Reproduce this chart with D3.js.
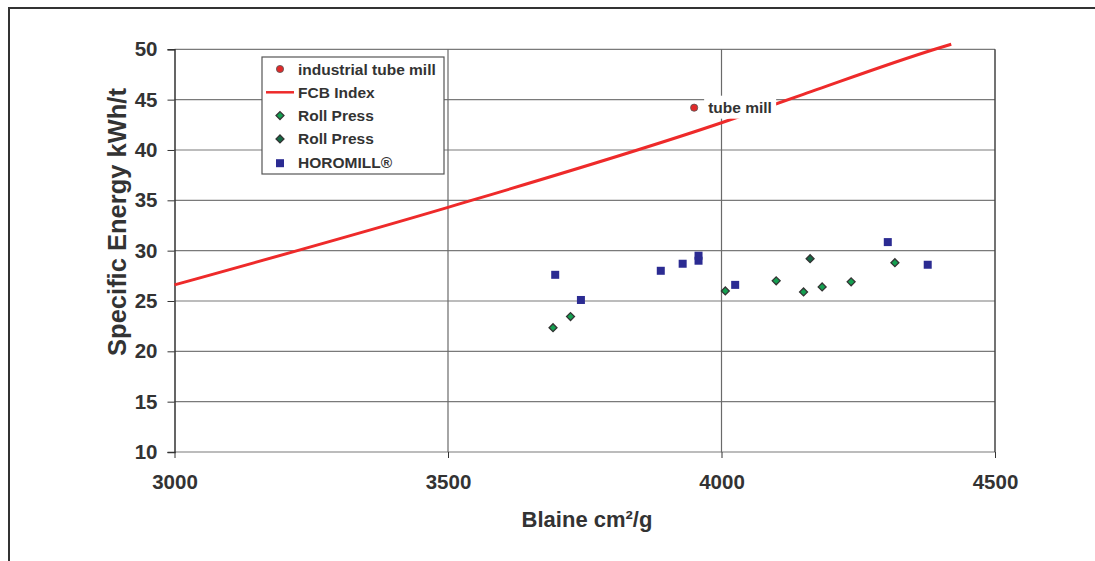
<!DOCTYPE html>
<html lang="en">
<head>
<meta charset="UTF-8">
<title>Specific Energy vs Blaine</title>
<script src="https://d3js.org/d3.v7.min.js"></script>
<style>
  body { margin: 0; background: #fff; }
  text { font-family: "Liberation Sans", Arial, sans-serif; font-weight: bold; fill: #333; }
</style>
</head>
<body>
<script>
    const blaineTicks = [3000, 3500, 4000, 4500];
    const energyTicks = [10, 15, 20, 25, 30, 35, 40, 45, 50];

    const tubeMillX = [3950];
    const tubeMillY = [44.2];

    const fcbX = [3000, 3500, 4000, 4143, 4390, 4420];
    const fcbY = [26.6, 34.3, 42.7, 45.4, 50.0, 50.5];

    const rollPress1X = [3692, 3724, 4007, 4100, 4150, 4184, 4237, 4317];
    const rollPress1Y = [22.35, 23.45, 26.0, 27.0, 25.9, 26.4, 26.9, 28.8];

    const rollPress2X = [4162];
    const rollPress2Y = [29.2];

    const horomillX = [3696, 3743, 3889, 3929, 3958, 3958, 4025, 4304, 4377];
    const horomillY = [27.6, 25.1, 28.0, 28.7, 29.0, 29.5, 26.6, 30.85, 28.6];

    const legendItems = ['industrial tube mill', 'FCB Index', 'Roll Press', 'Roll Press', 'HOROMILL®'];

    const W = 1095, H = 561;
    const plotLeft = 174.5, plotRight = 995, plotTop = 49.3, plotBottom = 452;

    const svg = d3.select("body").append("svg")
        .attr("width", W)
        .attr("height", H);

    // outer frame (top and left only)
    svg.append("path")
        .attr("d", `M9,${H} L9,8 L${W},8`)
        .attr("fill", "none")
        .attr("stroke", "#333")
        .attr("stroke-width", 2);

    const x = d3.scaleLinear().domain([3000, 4500]).range([plotLeft, plotRight]);
    const y = d3.scaleLinear().domain([10, 50]).range([plotBottom, plotTop]);

    // horizontal grid
    svg.append("g").selectAll("line")
        .data(energyTicks)
        .enter().append("line")
        .attr("x1", plotLeft).attr("x2", plotRight)
        .attr("y1", d => y(d)).attr("y2", d => y(d))
        .attr("stroke", "#7a7a7a")
        .attr("stroke-width", 1.2);

    // vertical grid
    svg.append("g").selectAll("line")
        .data(blaineTicks.slice(1, -1))
        .enter().append("line")
        .attr("x1", d => x(d)).attr("x2", d => x(d))
        .attr("y1", plotTop).attr("y2", plotBottom)
        .attr("stroke", "#6a6a6a")
        .attr("stroke-width", 1.2);

    // right border
    svg.append("line")
        .attr("x1", plotRight).attr("x2", plotRight)
        .attr("y1", plotTop).attr("y2", plotBottom)
        .attr("stroke", "#444")
        .attr("stroke-width", 1.5);

    // axes
    const yAxis = svg.append("g")
        .attr("transform", `translate(${plotLeft},0)`)
        .call(d3.axisLeft(y).tickValues(energyTicks).tickSize(7).tickPadding(10).tickFormat(d3.format("d")));
    yAxis.select(".domain").attr("stroke", "#333").attr("stroke-width", 1.5);
    yAxis.selectAll(".tick line").attr("stroke", "#333");
    yAxis.selectAll("text").style("font-size", "20.5px").attr("fill", "#333");

    const xAxis = svg.append("g")
        .attr("transform", `translate(0,${plotBottom})`)
        .call(d3.axisBottom(x).tickValues(blaineTicks).tickSize(6).tickPadding(16).tickFormat(d3.format("d")));
    xAxis.select(".domain").remove();
    xAxis.selectAll(".tick line").attr("stroke", "#333");
    xAxis.selectAll("text").style("font-size", "20.5px").attr("fill", "#333");

    // axis titles
    svg.append("text")
        .attr("x", 587)
        .attr("y", 527)
        .attr("text-anchor", "middle")
        .style("font-size", "22px")
        .text("Blaine cm²/g");

    svg.append("text")
        .attr("transform", `translate(126,222) rotate(-90)`)
        .attr("text-anchor", "middle")
        .style("font-size", "25.5px")
        .text("Specific Energy kWh/t");

    // FCB Index line
    const line = d3.line().x(d => x(d[0])).y(d => y(d[1])).curve(d3.curveMonotoneX);
    svg.append("path")
        .datum(fcbX.map((v, i) => [v, fcbY[i]]))
        .attr("d", line)
        .attr("fill", "none")
        .attr("stroke", "#ee2a2a")
        .attr("stroke-width", 3);

    // tube mill label with white box
    const tmx = x(tubeMillX[0]), tmy = y(tubeMillY[0]);
    svg.append("rect")
        .attr("x", tmx + 10).attr("y", tmy - 12)
        .attr("width", 72).attr("height", 23)
        .attr("fill", "#fff");
    svg.append("text")
        .attr("x", tmx + 14).attr("y", tmy + 5)
        .style("font-size", "15.5px")
        .text("tube mill");

    // markers
    function diamond(g, cx, cy, fill) {
        g.append("path")
            .attr("d", d3.symbol().type(d3.symbolDiamond2).size(40)())
            .attr("transform", `translate(${cx},${cy})`)
            .attr("fill", fill)
            .attr("stroke", "#333")
            .attr("stroke-width", 1.3);
    }
    function square(g, cx, cy) {
        g.append("rect")
            .attr("x", cx - 4).attr("y", cy - 4)
            .attr("width", 8).attr("height", 8)
            .attr("fill", "#2b2b92");
    }
    function dot(g, cx, cy) {
        g.append("circle")
            .attr("cx", cx).attr("cy", cy).attr("r", 3.6)
            .attr("fill", "#e02a2a")
            .attr("stroke", "#555")
            .attr("stroke-width", 0.8);
    }

    const marks = svg.append("g");
    horomillX.forEach((v, i) => square(marks, x(v), y(horomillY[i])));
    rollPress1X.forEach((v, i) => diamond(marks, x(v), y(rollPress1Y[i]), "#14a050"));
    rollPress2X.forEach((v, i) => diamond(marks, x(v), y(rollPress2Y[i]), "#156a45"));
    tubeMillX.forEach((v, i) => dot(marks, x(v), y(tubeMillY[i])));

    // legend
    const lg = svg.append("g").attr("transform", "translate(262,57)");
    lg.append("rect")
        .attr("width", 182).attr("height", 117)
        .attr("fill", "#fff")
        .attr("stroke", "#555")
        .attr("stroke-width", 1.2);

    legendItems.forEach((name, i) => {
        const ly = 12 + i * 23.3;
        if (i === 0) dot(lg, 18, ly);
        else if (i === 1) lg.append("line").attr("x1", 4).attr("x2", 32).attr("y1", ly).attr("y2", ly)
            .attr("stroke", "#ee2a2a").attr("stroke-width", 2.5);
        else if (i === 2) diamond(lg, 18, ly, "#14a050");
        else if (i === 3) diamond(lg, 18, ly, "#156a45");
        else square(lg, 18, ly + 1);
        lg.append("text")
            .attr("x", 36).attr("y", ly + 5.5)
            .style("font-size", "15.5px")
            .text(name);
    });
</script>
</body>
</html>
